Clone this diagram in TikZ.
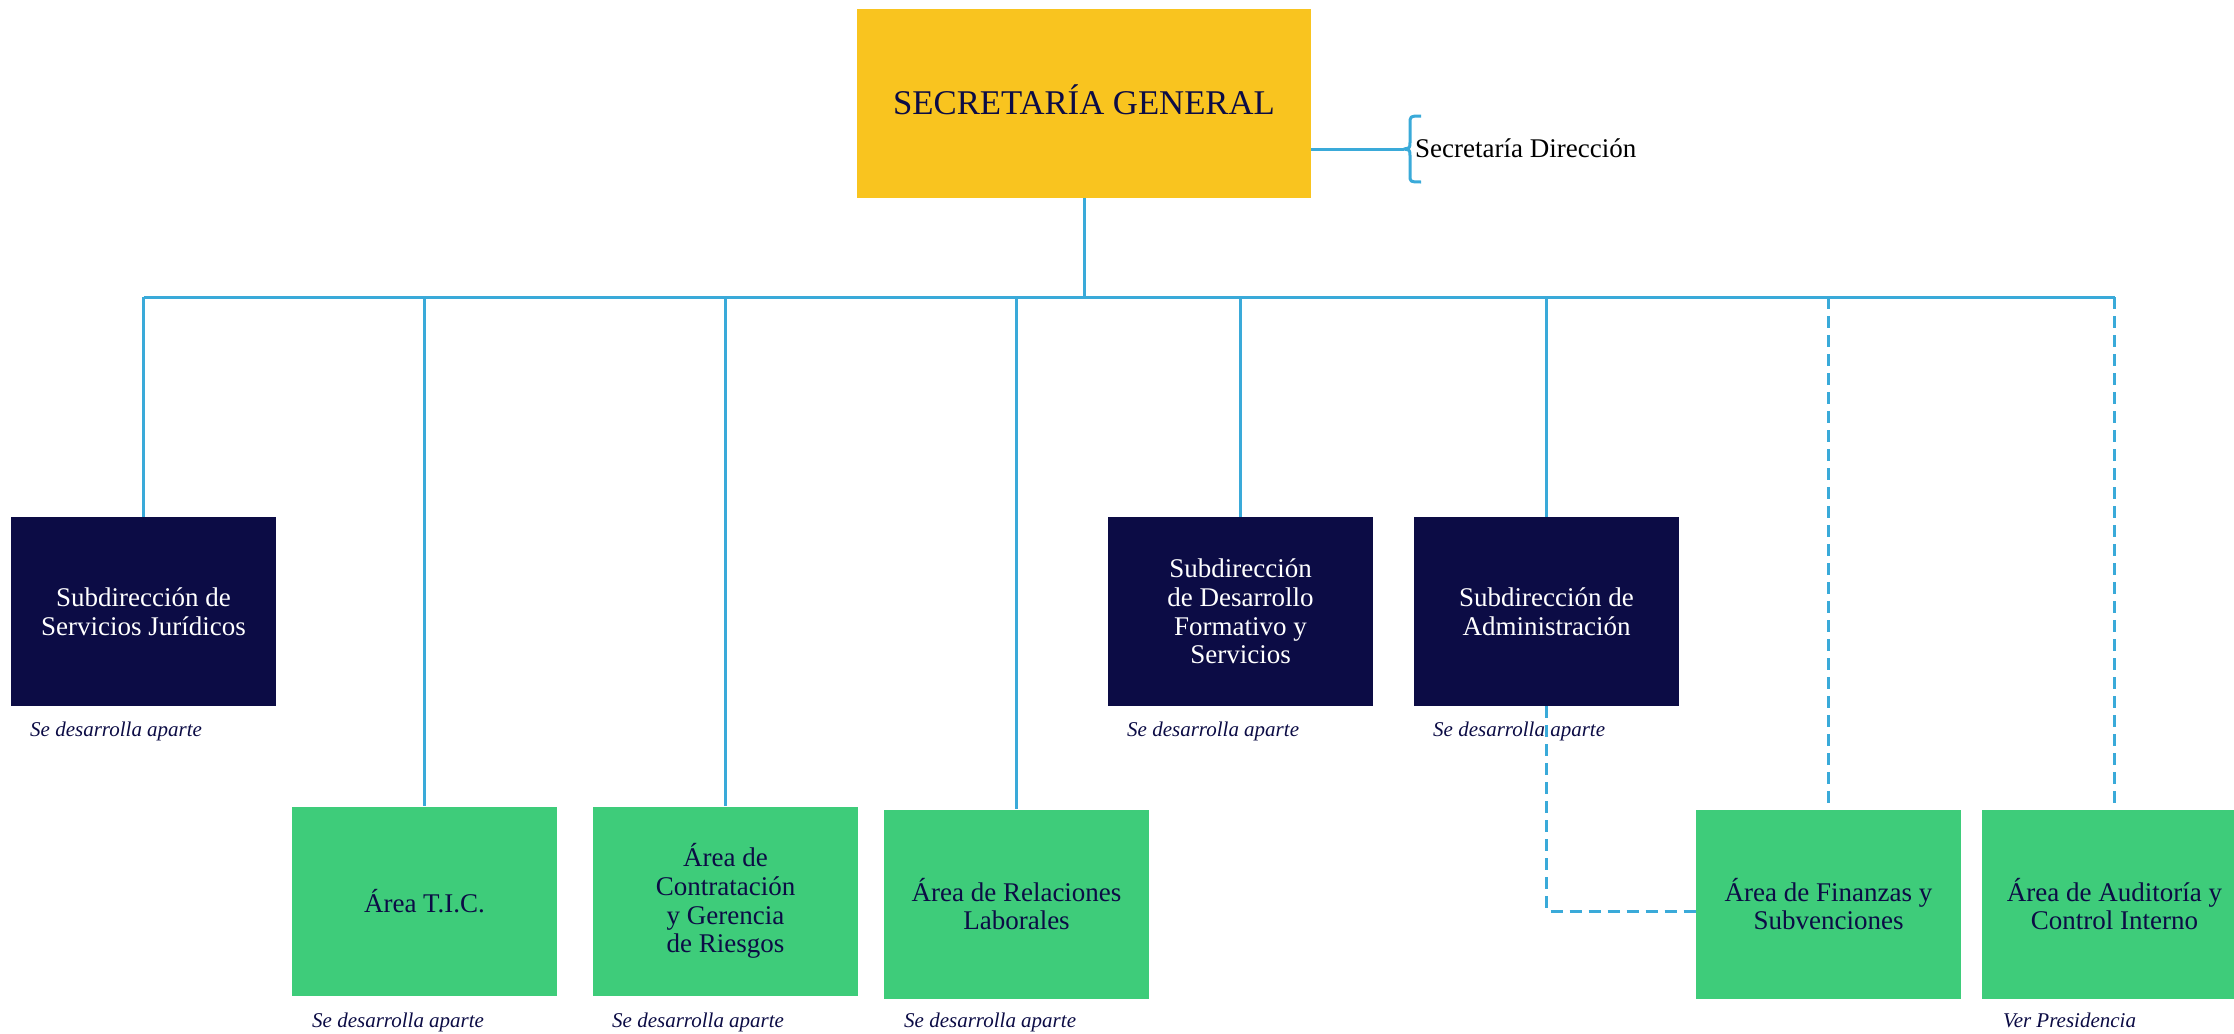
\documentclass[tikz,border=0pt]{standalone}
\usepackage{fontspec}
\setmainfont{Liberation Serif}
\definecolor{yel}{HTML}{F9C41F}
\definecolor{navy}{HTML}{0C0C45}
\definecolor{grn}{HTML}{3ECC7A}
\definecolor{lblue}{HTML}{3AAAD9}
\tikzset{
  boxbase/.style={rectangle, inner sep=0pt, minimum width=265pt, minimum height=189pt, align=center, font=\fontsize{27}{28.7}\selectfont},
  darkbox/.style={boxbase, fill=navy, text=white},
  greenbox/.style={boxbase, fill=grn, text=navy},
  topbox/.style={rectangle, inner sep=0pt, minimum width=454pt, minimum height=189pt, fill=yel, text=navy, font=\fontsize{34.7}{40}\selectfont},
  conn/.style={draw=lblue, line width=3pt},
  dconn/.style={draw=lblue, line width=3pt, dash pattern=on 12pt off 7pt},
  note/.style={anchor=base west, inner sep=0pt, text=navy, font=\fontsize{21}{24}\selectfont\itshape},
}
\begin{document}
\begin{tikzpicture}[x=1pt,y=-1pt]
\clip (0,0) rectangle (2234,1033);
\fill[white] (0,0) rectangle (2234,1033);

% nodes
\node[topbox] (top) at (1084,103.5) {\raisebox{8pt}{SECRETARÍA GENERAL}};
\node[darkbox] (sj) at (143.5,611.5) {Subdirección de\\Servicios Jurídicos};
\node[darkbox] (sdf) at (1240.5,611.5) {Subdirección\\de Desarrollo\\Formativo y\\Servicios};
\node[darkbox] (adm) at (1546.5,611.5) {Subdirección de\\Administración};
\node[greenbox] (tic) at (424.5,901) {Área T.I.C.};
\node[greenbox] (con) at (725.5,901) {Área de\\Contratación\\y Gerencia\\de Riesgos};
\node[greenbox] (rel) at (1016.5,904) {Área de Relaciones\\Laborales};
\node[greenbox] (fin) at (1828.5,904) {Área de Finanzas y\\Subvenciones};
\node[greenbox] (aud) at (2114.5,904) {Área de Auditoría y\\Control Interno};

% notes
\node[note] (n1) at (30,736) {Se desarrolla aparte};
\node[note] (n2) at (1127,736) {Se desarrolla aparte};
\node[note] (n3) at (1433,736) {Se desarrolla aparte};
\node[note] (n4) at (312,1027) {Se desarrolla aparte};
\node[note] (n5) at (612,1027) {Se desarrolla aparte};
\node[note] (n6) at (904,1027) {Se desarrolla aparte};
\node[note] (n7) at (2003,1027) {Ver Presidencia};

% secretaría dirección with brace
\coordinate (bt) at (1404,149);
\coordinate (bus) at (0,297);
\node[anchor=base west, inner sep=0pt, font=\fontsize{27}{30}\selectfont] (sd) at (1415,157) {Secretaría Dirección};
\draw[conn] (top.east |- bt) -- (bt);
\draw[draw=lblue, line width=3pt, line join=round] (1421,116) .. controls (1410,116) .. (1410,124) -- (1410,142) .. controls (1410,148) .. (bt) .. controls (1410,150) .. (1410,156) -- (1410,175) .. controls (1410,182) .. (1421,182);

% tree connectors
\draw[conn] (top.south) -- (top.south |- bus);
\draw[conn] (sj.north |- bus) -- (aud.north |- bus);
\draw[conn] (sj.north |- bus) -- (sj.north);
\draw[conn] (tic.north |- bus) -- (tic.north);
\draw[conn] (con.north |- bus) -- (con.north);
\draw[conn] (rel.north |- bus) -- (rel.north);
\draw[conn] (sdf.north |- bus) -- (sdf.north);
\draw[conn] (adm.north |- bus) -- (adm.north);
\draw[dconn] (fin.north |- bus) -- (fin.north);
\draw[dconn] (aud.north |- bus) -- (aud.north);
\draw[dconn] (adm.south) |- ([yshift=-7pt]fin.west);
\end{tikzpicture}
\end{document}
